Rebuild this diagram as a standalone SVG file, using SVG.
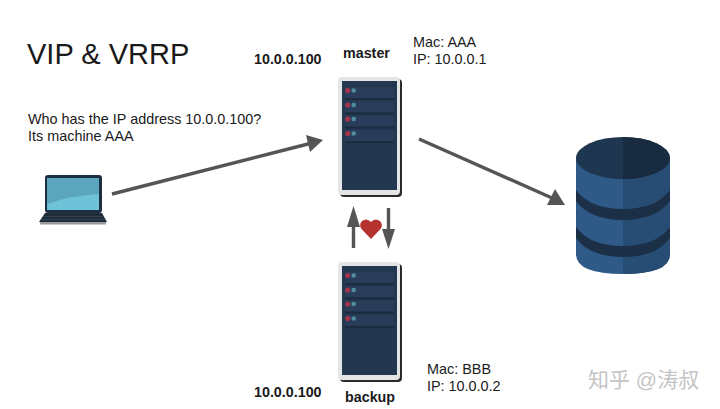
<svg xmlns="http://www.w3.org/2000/svg" width="720" height="409" viewBox="0 0 720 409">
<defs>
<style>
.s{font-family:"Liberation Sans",Arial,sans-serif;fill:#1a1a1a}
.b{font-weight:bold;font-size:14.300px}
.n{font-size:14.400px}
.c{stroke:#555;stroke-width:3.4;fill:none}
.h{fill:#555}
</style>
<g id="srv">
<rect x="340" y="79" width="62" height="118" rx="4" fill="#2b2b2b"/>
<rect x="338" y="77" width="62" height="118" rx="4" fill="#e4e6e6"/>
<rect x="342" y="81" width="55" height="109" fill="#233750"/>
<g id="u"><rect x="345" y="87" width="49" height="11" fill="#293d5a"/><rect x="345" y="98" width="49" height="2" fill="#1c2c40"/><circle cx="347.700" cy="90.500" r="2.600" fill="#a33349"/><circle cx="353.700" cy="90.500" r="2.300" fill="#4f8c9c"/></g>
<use href="#u" y="14.500"/><use href="#u" y="28.500"/><use href="#u" y="43"/>
</g>
</defs>
<rect width="720" height="409" fill="#fff"/>
<g id="connectors">
<path class="c" d="M112 194L312 143"/><path class="h" d="M323 140L306 135L310 152Z"/>
<path class="c" d="M419 139L552 198"/><path class="h" d="M565 205L555 189L547 205Z"/>
<path class="c" d="M353.500 248V218"/><path class="h" d="M353.500 206L347 227H360Z"/>
<path class="c" d="M388.500 208V236"/><path class="h" d="M388.500 249L382 229H395Z"/>
</g>
<g id="title"><text class="s" x="27" y="64" font-size="29">VIP &amp; VRRP</text></g>
<g id="question"><text class="s n" x="28" y="124">Who has the IP address 10.0.0.100?</text><text class="s n" x="28" y="141">Its machine AAA</text></g>
<g id="laptop">
<rect x="45" y="175" width="57" height="38" rx="3" fill="#1d2e42"/>
<rect x="47" y="178" width="52" height="32" fill="#5ba6bd"/>
<path d="M47 210V204Q68 196 99 194V210Z" fill="#6fc3d8"/>
<path d="M45 213H102L107 222H39Z" fill="#1f2c3a"/>
<path d="M43 216.500H104M41.500 219.500H105.500" stroke="#3a4a5a" stroke-width="0.700" fill="none"/>
<rect x="40" y="222" width="66" height="2.500" fill="#9a9a9a"/>
</g>
<g id="master">
<use href="#srv"/>
<text class="s b" x="343" y="58">master</text>
<text class="s b" x="254" y="64">10.0.0.100</text>
<text class="s n" x="413" y="47">Mac: AAA</text><text class="s n" x="413" y="64">IP: 10.0.0.1</text>
</g>
<g id="backup">
<use href="#srv" y="185"/>
<text class="s b" x="345" y="402">backup</text>
<text class="s b" x="254" y="397">10.0.0.100</text>
<text class="s n" x="427" y="374">Mac: BBB</text><text class="s n" x="427" y="391">IP: 10.0.0.2</text>
</g>
<g id="heart"><path d="M371 239L361.500 229Q358.500 225 362 221Q367 217.500 371 222Q375 217.500 380 221Q383.500 225 380.500 229Z" fill="#b5332e"/></g>
<g id="database">
<path d="M576 158V255Q577 274 623 274Q669 274 670 255V158Z" fill="#2f5a87"/>
<path d="M623 158H670V255Q669 274 623 274Z" fill="#284d75"/>
<path d="M576 190Q590 209 623 209Q656 209 670 190V201Q656 220 623 220Q590 220 576 201Z" fill="#1b2f47"/>
<path d="M576 227Q590 246 623 246Q656 246 670 227V238Q656 257 623 257Q590 257 576 238Z" fill="#1b2f47"/>
<ellipse cx="623" cy="158" rx="47" ry="21" fill="#1f3650"/>
<path d="M623 137A47 21 0 0 1 623 179Z" fill="#192b41"/>
</g>
<g id="watermark"><text x="588" y="387" font-size="21" fill="#c4c4c4" font-family="'Liberation Sans','Noto Sans CJK SC',sans-serif">知乎 @涛叔</text></g>
</svg>
